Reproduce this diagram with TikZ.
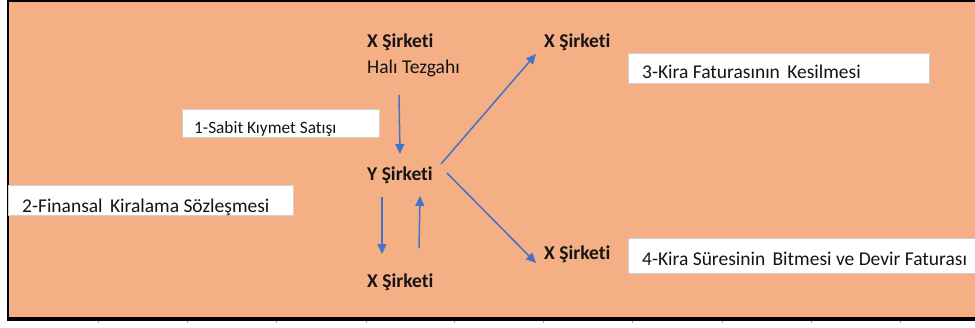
\documentclass[tikz,border=0pt]{standalone}
\usepackage{fontspec}
\setmainfont{Carlito}[Ligatures=NoCommon]
\usetikzlibrary{arrows.meta}
\definecolor{bgorange}{HTML}{F4AF84}
\definecolor{arrowblue}{HTML}{4472C4}
\definecolor{boxgray}{HTML}{D0D0D0}
\definecolor{txt}{HTML}{141414}
\tikzset{
  lbl/.style={anchor=base west, inner sep=0pt, text=txt, font=\fontsize{19.5}{22}\selectfont\bfseries},
  sublbl/.style={anchor=base west, inner sep=0pt, text=txt, font=\fontsize{19.5}{22}\selectfont},
  boxtxt/.style={anchor=base west, inner sep=0pt, text=txt, font=\fontsize{19.5}{22}\selectfont},
  smalltxt/.style={anchor=base west, inner sep=0pt, text=txt, font=\fontsize{17.3}{20}\selectfont},
  whitebox/.style={draw=boxgray, fill=white, line width=1pt},
  flow/.style={draw=arrowblue, line width=1.5pt, -{Triangle[length=10pt,width=9pt]}},
  frame/.style={draw=black},
}
\begin{document}
\begin{tikzpicture}[x=1pt,y=-1pt]
\useasboundingbox (0,0) rectangle (975,327);
\clip (0,0) rectangle (975,327);
% background
\fill[bgorange] (8,1) rectangle (975,318);
\draw[frame, line width=2.5pt] (8,0) -- (8,320);
\draw[frame, line width=2.5pt] (8,1) -- (975,1);
\draw[frame, line width=3.5pt] (7,319) -- (975,319);
\foreach \tx in {98,187,276,366,454,543,632,722,811,900}
  \draw[gray!70, line width=0.6pt] (\tx,320.5) -- (\tx,322.5);
% white boxes
\path[whitebox] (182,109) rectangle (379,137);
\path[whitebox] (8,185) rectangle (293,215);
\path[whitebox] (628,53) rectangle (929,83);
\path[whitebox] (628,238) rectangle (990,273);
% texts
\node[lbl] (xtop) at (367,47) {X Şirketi};
\node[sublbl] (hali) at (367,73) {Halı Tezgahı};
\node[lbl] (y) at (367,180) {Y Şirketi};
\node[lbl] (xbot) at (367,287) {X Şirketi};
\node[lbl] (xr1) at (544,47) {X Şirketi};
\node[lbl] (xr2) at (544,259) {X Şirketi};
\node[smalltxt] (t1) at (194,133) {1-Sabit Kıymet Satışı};
\node[boxtxt] (t2) at (22,212) {2-Finansal\hspace{0.15em} Kiralama Sözleşmesi};
\node[boxtxt] (t3) at (642,78) {3-Kira Faturasının\hspace{0.15em} Kesilmesi};
\node[boxtxt] (t4) at (642,265) {4-Kira Süresinin\hspace{0.15em} Bitmesi ve Devir Faturası};
% arrow end points
\coordinate (a1s) at (399,95);  \coordinate (a1e) at (400,154);
\coordinate (a2s) at (382,197); \coordinate (a2e) at (382,254);
\coordinate (a3s) at (419,248); \coordinate (a3e) at (420,196);
\coordinate (a4s) at (441,164); \coordinate (a4e) at (536,54);
\coordinate (a5s) at (447,173); \coordinate (a5e) at (536,263);
\draw[flow] (a1s) -- (a1e);
\draw[flow] (a2s) -- (a2e);
\draw[flow] (a3s) -- (a3e);
\draw[flow] (a4s) -- (a4e);
\draw[flow] (a5s) -- (a5e);
\end{tikzpicture}
\end{document}
